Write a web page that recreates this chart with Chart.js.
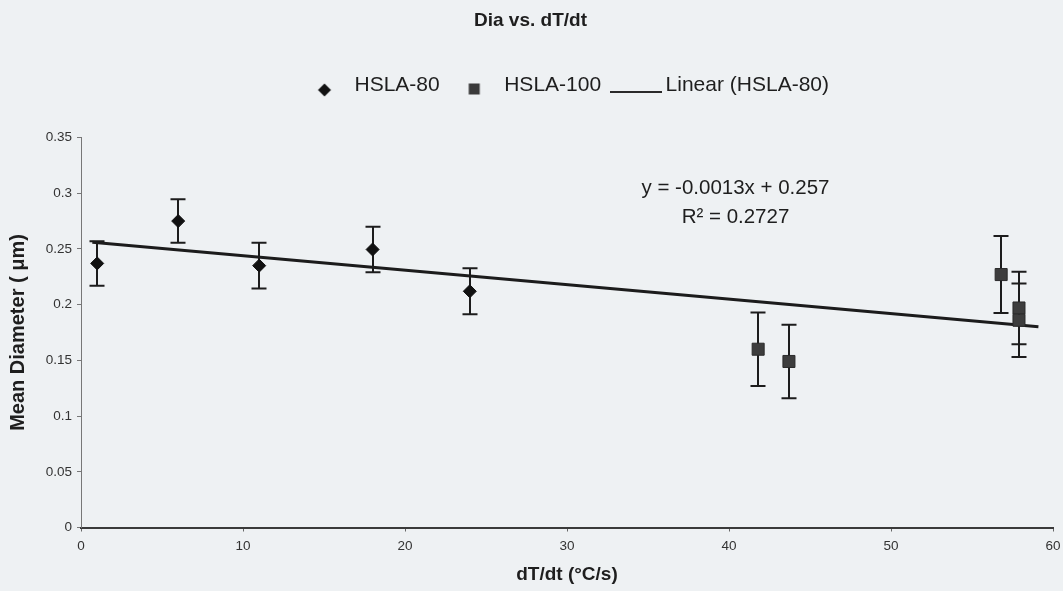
<!DOCTYPE html>
<html>
<head>
<meta charset="utf-8">
<script src="https://cdn.jsdelivr.net/npm/chart.js@4/dist/chart.umd.min.js"></script>
<style>
html,body{margin:0;padding:0;background:#eef1f3;}
canvas{display:block;}
</style>
</head>
<body>
<canvas id="c" width="1063" height="591"></canvas>
<script>
// ---- data ----
const chartTitle = 'Dia vs. dT/dt';
const xAxisTitle = 'dT/dt (°C/s)';
const yAxisTitle = 'Mean Diameter ( μm)';
const seriesNames = ['HSLA-80', 'HSLA-100', 'Linear (HSLA-80)'];

const hsla80X   = [1, 6, 11, 18, 24];
const hsla80Y   = [0.237, 0.275, 0.235, 0.2495, 0.212];
const hsla80Err = [0.020, 0.0195, 0.0205, 0.0205, 0.0207];

const hsla100X   = [41.8, 43.7, 56.8, 57.9, 57.9];
const hsla100Y   = [0.160, 0.149, 0.227, 0.197, 0.186];
const hsla100Err = [0.033, 0.033, 0.0345, 0.0325, 0.033];

const trendSlope = -0.0013;
const trendIntercept = 0.257;
const trendX = [0.7, 59.1];
const equationLines = ['y = -0.0013x + 0.257', 'R² = 0.2727'];

const xTicks = [0, 10, 20, 30, 40, 50, 60];
const yTicks = [0, 0.05, 0.1, 0.15, 0.2, 0.25, 0.3, 0.35];

// ---- helpers ----
const FONT = "Arial, 'Liberation Sans', Helvetica, sans-serif";
const toPts = (xs, ys) => xs.map((x, i) => ({x: x, y: ys[i]}));

function makeIcon(w, h, draw) {
  const c = document.createElement('canvas');
  c.width = w; c.height = h;
  draw(c.getContext('2d'), w, h);
  return c;
}
const legendIcons = [
  makeIcon(16, 30, (g, w, h) => {
    g.fillStyle = '#111';
    g.beginPath();
    g.moveTo(w/2, 20 - 6.5); g.lineTo(w/2 + 6.5, 20); g.lineTo(w/2, 20 + 6.5); g.lineTo(w/2 - 6.5, 20);
    g.closePath(); g.fill();
  }),
  makeIcon(14, 30, (g, w, h) => {
    g.fillStyle = '#3a3a3a';
    g.fillRect(1.5, 13.5, 11, 11);
  }),
  makeIcon(52, 30, (g, w, h) => {
    g.fillStyle = '#2a2a2a';
    g.fillRect(0, 21, 52, 2);
  })
];

const bgPlugin = {
  id: 'bg',
  beforeDraw(chart) {
    const ctx = chart.ctx;
    ctx.save();
    ctx.fillStyle = '#eef1f3';
    ctx.fillRect(0, 0, chart.width, chart.height);
    ctx.restore();
  }
};

const layoutFix = {
  id: 'layoutFix',
  beforeUpdate(chart) {
    const lg = chart.legend;
    if (lg && !lg._patched) {
      const f = lg.fit.bind(lg);
      lg.fit = function () { f(); this.height += 32; };
      lg._patched = true;
    }
  },
  afterLayout(chart) {
    const lg = chart.legend;
    const dx = (chart.chartArea.left + chart.chartArea.right) / 2 - (lg.left + lg.right) / 2;
    lg.left += dx; lg.right += dx;
    if (chart.titleBlock) { chart.titleBlock.left += 4; chart.titleBlock.right += 4; }
  }
};

const errorBars = {
  id: 'errorBars',
  beforeDatasetsDraw(chart) {
    const {ctx, scales: {x, y}} = chart;
    ctx.save();
    ctx.strokeStyle = '#1c1c1c';
    ctx.lineWidth = 2;
    chart.data.datasets.forEach(ds => {
      if (!ds.errors) return;
      ds.data.forEach((p, i) => {
        const px = Math.round(x.getPixelForValue(p.x));
        const top = y.getPixelForValue(p.y + ds.errors[i]);
        const bot = y.getPixelForValue(p.y - ds.errors[i]);
        ctx.beginPath();
        ctx.moveTo(px, top); ctx.lineTo(px, bot);
        ctx.moveTo(px - 7.5, top); ctx.lineTo(px + 7.5, top);
        ctx.moveTo(px - 7.5, bot); ctx.lineTo(px + 7.5, bot);
        ctx.stroke();
      });
    });
    ctx.restore();
  }
};

const equationPlugin = {
  id: 'equation',
  afterDraw(chart) {
    const {ctx, scales: {x, y}} = chart;
    ctx.save();
    ctx.font = '20.5px ' + FONT;
    ctx.fillStyle = '#1e1e1e';
    ctx.textAlign = 'center';
    ctx.textBaseline = 'middle';
    const cx = x.getPixelForValue(40.4);
    ctx.fillText(equationLines[0], cx, y.getPixelForValue(0.3048));
    ctx.fillText(equationLines[1], cx, y.getPixelForValue(0.278));
    ctx.restore();
  }
};

new Chart(document.getElementById('c'), {
  type: 'scatter',
  data: {
    datasets: [
      {
        label: seriesNames[0],
        data: toPts(hsla80X, hsla80Y),
        errors: hsla80Err,
        pointStyle: 'rectRot',
        pointRadius: 6.5,
        pointHoverRadius: 6.5,
        backgroundColor: '#111',
        borderColor: '#111',
        borderWidth: 1
      },
      {
        label: seriesNames[1],
        data: toPts(hsla100X, hsla100Y),
        errors: hsla100Err,
        pointStyle: 'rect',
        pointRadius: 8.5,
        pointHoverRadius: 8.5,
        backgroundColor: '#3d3d3d',
        borderColor: '#2a2a2a',
        borderWidth: 1
      },
      {
        label: seriesNames[2],
        data: trendX.map(v => ({x: v, y: trendIntercept + trendSlope * v})),
        showLine: true,
        pointRadius: 0,
        pointHoverRadius: 0,
        borderColor: '#1c1c1c',
        backgroundColor: '#1c1c1c',
        borderWidth: 3
      }
    ]
  },
  options: {
    responsive: false,
    animation: false,
    devicePixelRatio: 1,
    layout: {padding: {left: 0, right: 10, top: 0, bottom: 0}},
    plugins: {
      tooltip: {enabled: false},
      title: {
        display: true,
        text: chartTitle,
        color: '#1e1e1e',
        font: {family: FONT, size: 19, weight: 'bold'},
        padding: {top: 9, bottom: 27.7}
      },
      legend: {
        display: true,
        position: 'top',
        labels: {
          usePointStyle: true,
          pointStyleWidth: 39,
          padding: 15,
          color: '#1e1e1e',
          font: {family: FONT, size: 21},
          generateLabels(chart) {
            const items = Chart.defaults.plugins.legend.labels.generateLabels(chart);
            items.forEach((it, i) => { it.pointStyle = legendIcons[i]; it.lineWidth = 0; });
            return items;
          }
        }
      }
    },
    scales: {
      x: {
        type: 'linear',
        min: 0, max: 60,
        afterBuildTicks: s => { s.ticks = xTicks.map(v => ({value: v})); },
        afterFit: s => { s.height = 63.5; s.paddingRight = 0; },
        ticks: {color: '#333', font: {family: FONT, size: 13.5}, padding: 7, maxRotation: 0},
        grid: {display: true, drawOnChartArea: false, drawTicks: true, tickLength: 4, color: '#666'},
        border: {display: true, color: '#3a3a3a', width: 2},
        title: {display: true, text: xAxisTitle, color: '#1e1e1e', font: {family: FONT, size: 19, weight: 'bold'}, padding: {top: 0, bottom: 4.6}}
      },
      y: {
        type: 'linear',
        min: 0, max: 0.35,
        afterBuildTicks: s => { s.ticks = yTicks.map(v => ({value: v})); },
        afterFit: s => { s.width = 81; },
        ticks: {color: '#333', font: {family: FONT, size: 13.5}, padding: 5, callback: v => String(+v.toFixed(2))},
        grid: {display: true, drawOnChartArea: false, drawTicks: true, tickLength: 4, color: '#777'},
        border: {display: true, color: '#777', width: 1},
        title: {display: true, text: yAxisTitle, color: '#1e1e1e', font: {family: FONT, size: 20, weight: 'bold'}, padding: {top: 6, bottom: 0}}
      }
    }
  },
  plugins: [bgPlugin, layoutFix, errorBars, equationPlugin]
});
</script>
</body>
</html>
